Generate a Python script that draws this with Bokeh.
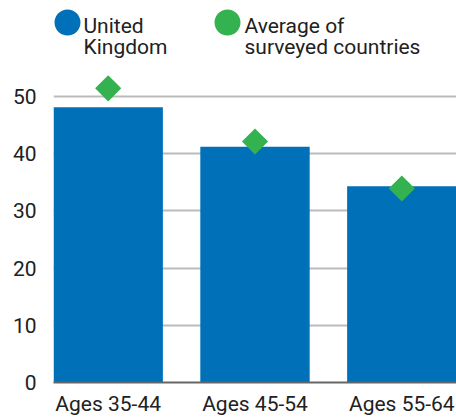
from bokeh.plotting import figure
from bokeh.models import Range1d, FixedTicker, Label, BoxAnnotation, ColumnDataSource
from bokeh.embed import file_html
from bokeh.resources import INLINE
import numpy as np

categories = ["Ages 35-44", "Ages 45-54", "Ages 55-64"]
uk_values = [48.1, 41.2, 34.3]
avg_values = [51.4, 42.1, 33.9]
y_ticks = [0, 10, 20, 30, 40, 50]
legend_labels = ["United\nKingdom", "Average of\nsurveyed countries"]

BLUE = "#0071B9"
GREEN = "#34B24F"
TEXT = "#212121"
FONT = "Roboto"

xs = list(range(len(categories)))
src = ColumnDataSource(dict(x=xs, cat=categories, uk=uk_values, avg=avg_values))

W, H = 456, 418
FRAME_LEFT, FRAME_BOTTOM = 53, 384
p = figure(width=W, height=H, output_backend="svg", toolbar_location=None,
           x_range=Range1d(-0.3725, 2.3725), y_range=Range1d(0, 66.74),
           min_border_left=FRAME_LEFT, min_border_right=0, min_border_top=0,
           min_border_bottom=H - FRAME_BOTTOM)
p.outline_line_color = None

p.vbar(x="x", top="uk", width=0.745, source=src, color=BLUE, line_color=None)
p.scatter(x="x", y="avg", source=src, marker="square", size=18.5, angle=np.pi / 4,
          color=GREEN, line_color=None)

# y axis
p.yaxis.ticker = FixedTicker(ticks=y_ticks)
p.yaxis.axis_line_color = None
p.yaxis.major_tick_line_color = None
p.yaxis.minor_tick_line_color = None
p.yaxis.major_tick_out = 0
p.yaxis.major_label_standoff = 17
p.yaxis.major_label_text_font = FONT
p.yaxis.major_label_text_font_size = "21px"
p.yaxis.major_label_text_color = TEXT

# x axis
p.xaxis.ticker = FixedTicker(ticks=xs)
p.xaxis.major_label_overrides = {i: c for i, c in zip(xs, categories)}
p.xaxis.axis_line_color = "#666666"
p.xaxis.axis_line_width = 2
p.xaxis.major_tick_line_color = None
p.xaxis.minor_tick_line_color = None
p.xaxis.major_tick_out = 0
p.xaxis.major_tick_in = 0
p.xaxis.major_label_standoff = 9
p.xaxis.major_label_text_font = FONT
p.xaxis.major_label_text_font_size = "21px"
p.xaxis.major_label_text_color = TEXT

p.xgrid.grid_line_color = None
p.ygrid.ticker = FixedTicker(ticks=y_ticks)
p.ygrid.grid_line_color = "#BBBBBB"
p.ygrid.grid_line_width = 2

# legend (screen units are measured from the frame's bottom-left corner, y up)
for cx, col, lab, tx in [(67, BLUE, legend_labels[0], 83), (227, GREEN, legend_labels[1], 244)]:
    sy = FRAME_BOTTOM - 24
    sx = cx - FRAME_LEFT
    p.add_layout(BoxAnnotation(left=sx - 13, right=sx + 13, bottom=sy - 13, top=sy + 13,
                               left_units="screen", right_units="screen",
                               top_units="screen", bottom_units="screen",
                               fill_color=col, fill_alpha=1, line_color=None,
                               border_radius=13, level="overlay"))
    p.add_layout(Label(x=tx - FRAME_LEFT, y=FRAME_BOTTOM - 15, x_units="screen", y_units="screen",
                       text=lab, text_font=FONT, text_font_size="21px", text_color=TEXT,
                       text_baseline="top", text_align="left", text_line_height=0.9))

open("out.html", "w").write(file_html(p, INLINE))
